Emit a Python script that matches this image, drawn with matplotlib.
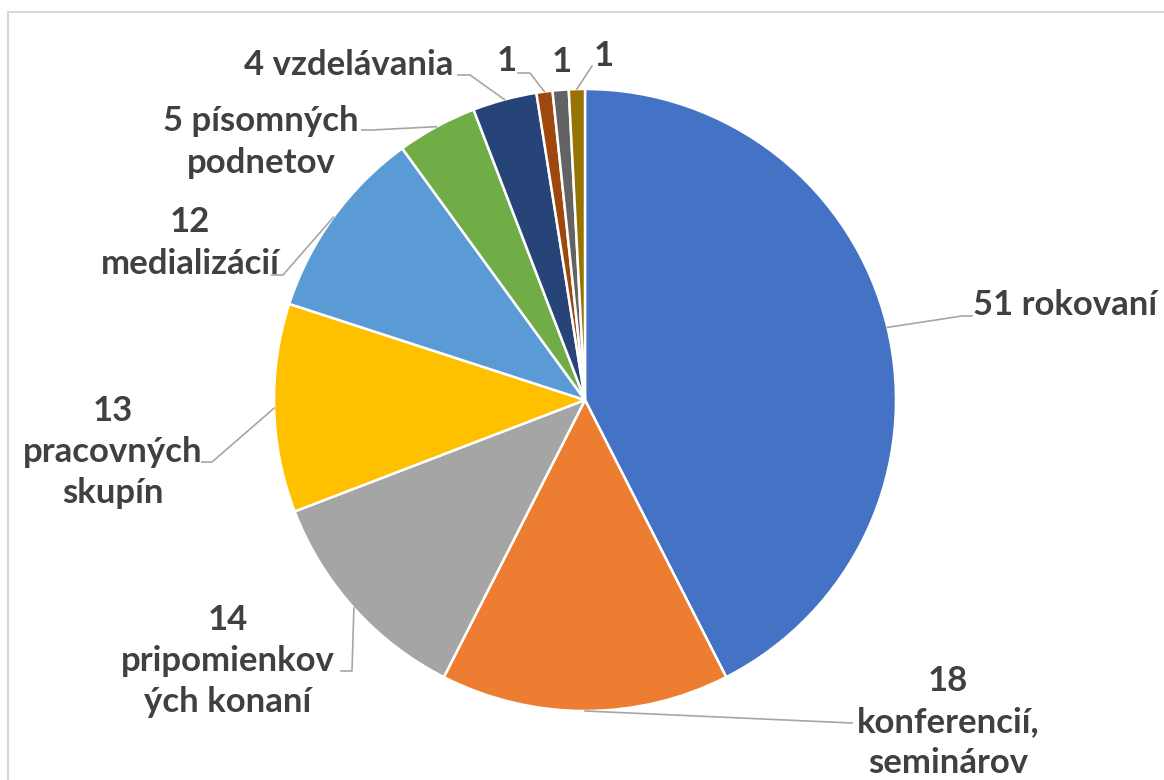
import numpy as np
import matplotlib
matplotlib.use("Agg")
import matplotlib.pyplot as plt

# data
values = [51, 18, 14, 13, 12, 5, 4, 1, 1, 1]
labels = ["51 rokovaní", "18\nkonferencií,\nseminárov", "14\npripomienkov\ných konaní",
          "13\npracovných\nskupín", "12\nmedializácií", "5 písomných\npodnetov",
          "4 vzdelávania", "1", "1", "1"]
colors = ["#4472C4", "#ED7D31", "#A5A5A5", "#FFC000", "#5B9BD5",
          "#70AD47", "#264478", "#9E480E", "#636363", "#997300"]

W, H = 1164, 780
cx, cy, R = 585, 400, 311

# label layout in pixel space (x, y of text centre), and leader elbow (x, y) or None
label_pos = [(1065, 305), (948, 722), (228, 661), (113, 452), (190, 243),
             (261, 142), (349, 65), (507, 61), (562, 62), (604, 56)]
elbows = [(962, 316), (852, 723), (352, 671), (212, 462), (283, 275),
          (372, 130), (470, 75), (530, 73), None, (592, 66)]
ends = [(972, 316), None, (341, 671), (202, 462), (272, 275),
        (362, 130), (458, 75), (518, 73), None, None]

plt.rcParams['font.family'] = ['Lato', 'DejaVu Sans']

fig = plt.figure(figsize=(W / 100, H / 100), dpi=100)
ax = fig.add_axes([0, 0, 1, 1])


def Y(py):
    return H - py


wedges, _ = ax.pie(values, colors=colors, startangle=90, counterclock=False,
                   center=(cx, Y(cy)), radius=R, frame=True,
                   wedgeprops=dict(edgecolor='white', linewidth=1.8))
ax.set_xlim(0, W)
ax.set_ylim(0, H)
ax.set_aspect('equal')
ax.axis('off')

# frame of the chart area
ax.plot([8, 8, W], [0, Y(12), Y(12)], color='#D9D9D9', lw=1.5, solid_capstyle='butt')

lc = '#A6A6A6'
for w, lab, (tx, ty), el, en in zip(wedges, labels, label_pos, elbows, ends):
    mid = np.deg2rad((w.theta1 + w.theta2) / 2)
    sx = cx + R * np.cos(mid)
    sy = Y(cy) + R * np.sin(mid)
    if el is not None:
        xs = [sx, el[0]]
        ys = [sy, Y(el[1])]
        if en is not None:
            xs.append(en[0])
            ys.append(Y(en[1]))
        ax.plot(xs, ys, color=lc, lw=1.2)
    ax.text(tx, Y(ty), lab, ha='center', va='center', fontsize=25,
            fontweight='bold', color='#404040', linespacing=1.36, multialignment='center')

fig.savefig("out.png", dpi=100)
